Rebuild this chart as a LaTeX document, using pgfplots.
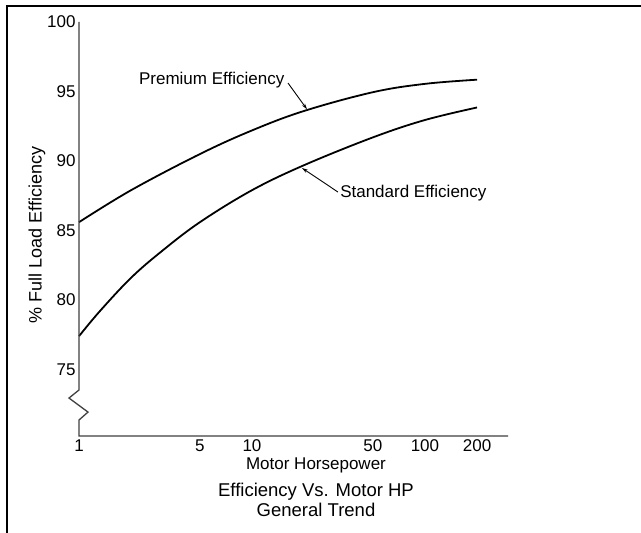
\documentclass[border=0pt]{standalone}
\usepackage{fontspec}
\setmainfont{Liberation Sans}
\usepackage{pgfplots}
\pgfplotsset{compat=1.18}
\usetikzlibrary{arrows.meta}
\begin{document}
\begin{tikzpicture}[x=1pt,y=1pt]
\useasboundingbox (0,0) rectangle (641,533);
\fill[white] (0,0) rectangle (641,533);
\draw[line width=1.6pt] (641,527) -- (7,527) -- (7,0);
\begin{axis}[
  at={(79pt,97pt)}, anchor=south west,
  scale only axis, width=429pt, height=414pt,
  xmode=log, xmin=1, xmax=302, ymin=70.22, ymax=100,
  axis line style={draw=none},
  major tick length=0pt,
  xtick={1,5,10,50,100,200}, xticklabels={1,5,10,50,100,200},
  ytick={75,80,85,90,95,100}, yticklabels={75,80,85,90,95,100},
  tick label style={font=\fontsize{17}{20}\selectfont},
  /pgf/number format/assume math mode=true,
  clip=false,
]
\addplot[black, line width=1.8pt, smooth, tension=0.6] coordinates {
  (1,85.6) (2,87.9) (5,90.5) (10,92.2) (20,93.6) (50,94.95) (100,95.55) (200,95.85)};
\addplot[black, line width=1.8pt, smooth, tension=0.6] coordinates {
  (1,77.4) (1.32,79.2) (2,81.6) (3,83.5) (5,85.6) (10,87.9) (20,89.7) (50,91.7) (100,92.95) (200,93.85)};
\draw[line width=1.3pt, black!75] (axis cs:1,100) -- (axis cs:1,73.53)
  -- ([xshift=-10pt]axis cs:1,72.95) -- ([xshift=9pt]axis cs:1,71.94)
  -- (axis cs:1,71.37) -- (axis cs:1,70.22) -- (axis cs:302,70.22);
\node[anchor=west, inner sep=0pt, font=\fontsize{17}{20}\selectfont] at (axis cs:2.22,95.83) {Premium Efficiency};
\draw[line width=0.9pt, -{Stealth[length=6pt,width=3.5pt]}] (axis cs:16.15,95.61) -- (axis cs:20.8,93.72);
\node[anchor=west, inner sep=0pt, font=\fontsize{17}{20}\selectfont] at (axis cs:32.3,87.70) {Standard Efficiency};
\draw[line width=0.9pt, -{Stealth[length=6pt,width=3.5pt]}] (axis cs:31.4,87.77) -- (axis cs:19.45,89.5);
\end{axis}
\node[font=\fontsize{17}{20}\selectfont] at (316,68) {Motor Horsepower};
\node[font=\fontsize{18.5}{21}\selectfont] at (316,41) {Efficiency Vs. Motor HP};
\node[font=\fontsize{18.5}{21}\selectfont] at (316,23) {General Trend};
\node[rotate=90, font=\fontsize{18}{21}\selectfont] at (37,298) {\% Full Load Efficiency};
\end{tikzpicture}
\end{document}
